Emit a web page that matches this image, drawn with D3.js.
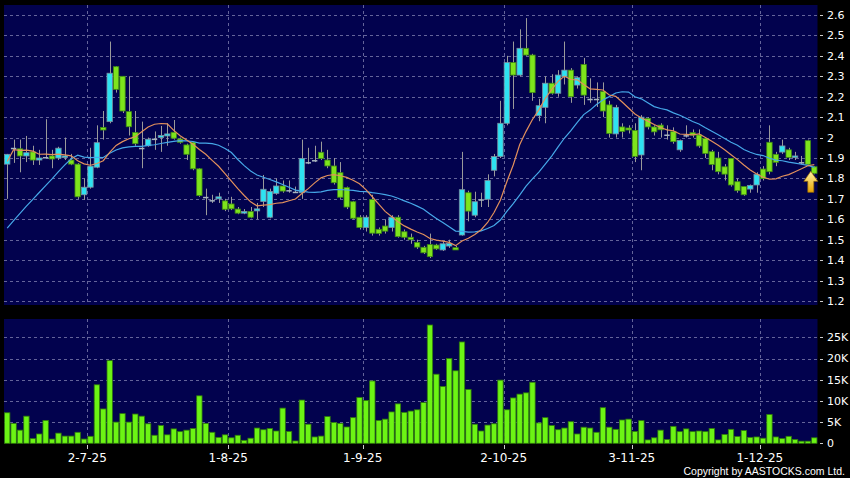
<!DOCTYPE html>
<html>
<head>
<meta charset="utf-8">
<script src="https://cdn.jsdelivr.net/npm/d3@7"></script>
<style>
  body { margin: 0; background: #000; }
  svg { display: block; font-family: "DejaVu Sans", sans-serif; }
</style>
</head>
<body>
<div id="chart"></div>
<script>
////////////////////////////////////////////////////////////////////
////////////////////////////  Data  ////////////////////////////////
// daily candles, 12-6-25 .. 11-12-25 (127 trading days)
const opens = [1.87,1.95,1.945,1.91,1.93,1.89,1.905,1.91,1.90,1.905,
  1.89,1.87,1.72,1.757,1.855,2.05,2.078,2.347,2.30,2.127,
  2.025,1.95,1.96,1.995,2.0,2.008,2.026,1.993,1.964,1.977,
  1.847,1.71,1.694,1.70,1.69,1.675,1.65,1.63,1.638,1.641,
  1.687,1.61,1.727,1.763,1.743,1.735,1.73,1.88,1.89,1.928,
  1.89,1.861,1.828,1.755,1.686,1.61,1.56,1.697,1.551,1.567,
  1.56,1.61,1.539,1.512,1.487,1.463,1.476,1.474,1.45,1.469,
  1.461,1.523,1.73,1.62,1.698,1.698,1.84,1.907,2.07,2.367,
  2.306,2.437,2.404,2.107,2.148,2.266,2.217,2.298,2.33,2.257,
  2.358,2.19,2.19,2.225,2.16,2.018,2.052,2.047,2.035,1.915,
  2.094,2.052,2.061,2.015,2.029,1.94,2.012,2.024,2.013,1.996,
  1.931,1.90,1.857,1.898,1.784,1.76,1.748,1.768,1.846,1.977,
  1.918,1.929,1.94,1.903,1.88,1.985,1.857];

const highs = [1.92,1.99,1.99,2.008,1.96,1.94,2.09,1.94,1.955,2.00,
  1.92,1.875,1.80,1.95,2.06,2.13,2.47,2.35,2.30,2.30,
  2.13,2.078,2.00,2.03,2.057,2.07,2.086,2.00,1.97,1.98,
  1.85,1.75,1.72,1.73,1.70,1.71,1.66,1.65,1.66,1.68,
  1.817,1.75,1.80,1.79,1.79,1.76,1.99,1.95,1.96,1.98,
  1.94,1.90,1.88,1.76,1.69,1.62,1.62,1.72,1.56,1.60,
  1.62,1.62,1.55,1.53,1.50,1.47,1.53,1.48,1.49,1.50,
  1.47,1.93,1.74,1.735,1.73,1.82,1.92,2.18,2.40,2.47,
  2.53,2.585,2.41,2.19,2.30,2.31,2.33,2.47,2.34,2.30,
  2.39,2.29,2.27,2.27,2.18,2.16,2.07,2.06,2.07,2.11,
  2.10,2.06,2.07,2.06,2.05,1.99,2.06,2.04,2.04,2.00,
  1.94,1.93,1.87,1.90,1.80,1.76,1.77,1.83,1.86,2.06,
  1.93,1.99,1.95,1.93,1.91,1.99,1.86];

const lows = [1.70,1.876,1.83,1.88,1.866,1.866,1.90,1.85,1.89,1.89,
  1.865,1.70,1.695,1.75,1.85,1.99,2.07,2.22,2.12,2.01,
  1.96,1.85,1.955,1.94,1.93,1.96,1.99,1.97,1.89,1.84,
  1.71,1.62,1.68,1.68,1.64,1.645,1.625,1.625,1.605,1.60,
  1.66,1.605,1.72,1.73,1.73,1.73,1.70,1.87,1.88,1.89,
  1.85,1.77,1.70,1.65,1.60,1.55,1.54,1.52,1.52,1.53,
  1.54,1.51,1.50,1.48,1.455,1.43,1.41,1.45,1.445,1.46,
  1.45,1.52,1.59,1.61,1.66,1.66,1.81,1.90,2.06,2.14,
  2.30,2.40,2.18,2.08,2.07,2.21,2.20,2.26,2.17,2.24,
  2.16,2.17,2.15,2.10,2.00,2.00,2.00,2.02,1.88,1.84,
  2.04,2.01,2.00,1.99,1.97,1.93,2.00,2.00,1.95,1.90,
  1.84,1.82,1.79,1.76,1.73,1.715,1.73,1.73,1.79,1.82,
  1.86,1.92,1.89,1.89,1.87,1.86,1.82];

const closes = [1.918,1.95,1.91,1.926,1.89,1.90,1.905,1.895,1.948,1.91,
  1.87,1.71,1.757,1.86,1.975,2.037,2.315,2.236,2.13,2.053,
  1.97,1.95,1.992,1.995,2.01,2.018,1.997,1.977,1.918,1.847,
  1.716,1.71,1.694,1.71,1.649,1.651,1.63,1.638,1.61,1.651,
  1.747,1.736,1.763,1.738,1.743,1.735,1.898,1.88,1.89,1.898,
  1.861,1.779,1.708,1.66,1.605,1.56,1.61,1.532,1.531,1.542,
  1.61,1.515,1.512,1.50,1.464,1.436,1.417,1.455,1.48,1.482,
  1.45,1.745,1.64,1.686,1.698,1.79,1.907,2.07,2.367,2.306,
  2.437,2.404,2.22,2.156,2.266,2.217,2.306,2.33,2.20,2.293,
  2.208,2.19,2.19,2.13,2.02,2.148,2.03,2.037,1.908,2.10,
  2.052,2.028,2.038,2.015,1.98,1.986,2.012,2.012,1.959,1.922,
  1.868,1.833,1.821,1.768,1.74,1.72,1.766,1.82,1.80,1.833,
  1.879,1.959,1.903,1.91,1.88,1.869,1.825];

// volume in shares
const volumes = [7200,4700,3100,6400,1100,2200,5400,1000,2400,1700,
  1700,2600,1000,1650,13800,8100,19500,5000,7000,5000,
  6900,6400,4600,1900,4200,2000,3400,2750,3100,3500,
  11200,4700,2600,1400,2000,1300,1900,700,1200,3600,
  3200,3500,2900,8300,2800,550,10200,4500,1500,1700,
  6300,4900,4700,3850,6050,10800,10100,14700,5400,5700,
  7400,9300,7300,7600,7900,9600,27900,16300,13400,20000,
  17100,23900,12700,4500,2900,4300,4600,14900,7900,10700,
  11600,11900,14400,4800,6050,4200,3200,3600,5100,2200,
  3800,3600,2600,8400,3800,3300,5500,5700,2800,5350,
  800,1300,3100,900,4000,2750,3400,2750,2900,2750,
  3500,800,2100,3300,1600,3000,1400,1500,1200,6800,
  1500,1100,1650,900,500,500,1300];

// closes before the window (only feed the moving averages)
const priorCloses = [1.20,1.21,1.22,1.22,1.23,1.23,1.24,1.24,1.25,1.26,
  1.37,1.94,1.92,1.94,2.05,1.90,1.92,1.92,1.95];

const tickIndex = [13, 35, 56, 78, 98, 118];
const tickLabels = ["2-7-25", "1-8-25", "1-9-25", "2-10-25", "3-11-25", "1-12-25"];
const priceTicks = [1.2,1.3,1.4,1.5,1.6,1.7,1.8,1.9,2,2.1,2.2,2.3,2.4,2.5,2.6];
const volumeTicks = [0, 5000, 10000, 15000, 20000, 25000];

////////////////////////////////////////////////////////////////////
////////////////////////////  Init  ////////////////////////////////
const width = 850, height = 478;
const panelLeft = 4, panelRight = 817.5;
const price = { top: 5, bottom: 305 };
const vol = { top: 319, bottom: 443 };
const pad = 0.16;

const svg = d3.select("#chart").append("svg")
  .attr("width", width).attr("height", height);

svg.append("rect").attr("width", width).attr("height", height).attr("fill", "#000");

// scales
const idx = d3.range(closes.length);
const xScale = d3.scaleBand().domain(idx).range([panelLeft, panelRight])
  .paddingInner(pad).paddingOuter(pad / 2);
const cx = (i) => xScale(i) + xScale.bandwidth() / 2;
const edge = (i) => xScale(i) - (xScale.step() - xScale.bandwidth()) / 2;

const yScale = d3.scaleLinear().domain([1.2, 2.6]).range([301, 15]);
const vScale = d3.scaleLinear().domain([0, 25000]).range([443.3, 337.3]);

const gridColor = "#64649a";
const panelFill = "#02024e";

// panels
[price, vol].forEach((p) => {
  svg.append("rect")
    .attr("x", panelLeft).attr("y", p.top)
    .attr("width", panelRight - panelLeft).attr("height", p.bottom - p.top)
    .attr("fill", panelFill);
});

svg.append("clipPath").attr("id", "clip-price")
  .append("rect").attr("x", panelLeft).attr("y", price.top)
  .attr("width", panelRight - panelLeft).attr("height", price.bottom - price.top);

// horizontal grid
svg.append("g").selectAll("line").data(priceTicks).enter().append("line")
  .attr("x1", panelLeft).attr("x2", panelRight)
  .attr("y1", (d) => Math.round(yScale(d)) + 0.5).attr("y2", (d) => Math.round(yScale(d)) + 0.5)
  .attr("stroke", gridColor).attr("stroke-dasharray", "3,3");

svg.append("g").selectAll("line").data(volumeTicks.filter((d) => d > 0)).enter().append("line")
  .attr("x1", panelLeft).attr("x2", panelRight)
  .attr("y1", (d) => Math.round(vScale(d)) + 0.5).attr("y2", (d) => Math.round(vScale(d)) + 0.5)
  .attr("stroke", gridColor).attr("stroke-dasharray", "3,3");

// vertical grid
[price, vol].forEach((p) => {
  svg.append("g").selectAll("line").data(tickIndex).enter().append("line")
    .attr("x1", (d) => Math.round(edge(d)) + 0.5).attr("x2", (d) => Math.round(edge(d)) + 0.5)
    .attr("y1", p.top).attr("y2", p.bottom)
    .attr("stroke", gridColor).attr("stroke-dasharray", "3,3");
});

////////////////////////////////////////////////////////////////////
////////////////////////////  Candles  /////////////////////////////
const candles = svg.append("g");

candles.selectAll("line.wick").data(idx).enter().append("line")
  .attr("class", "wick")
  .attr("x1", (i) => Math.round(cx(i)) + 0.5).attr("x2", (i) => Math.round(cx(i)) + 0.5)
  .attr("y1", (i) => yScale(highs[i])).attr("y2", (i) => yScale(lows[i]))
  .attr("stroke", "#9a9a9a").attr("stroke-width", 1);

candles.selectAll("rect.body").data(idx).enter().append("rect")
  .attr("class", "body")
  .attr("x", (i) => xScale(i))
  .attr("y", (i) => yScale(Math.max(opens[i], closes[i])))
  .attr("width", xScale.bandwidth())
  .attr("height", (i) => Math.max(1.5, Math.abs(yScale(opens[i]) - yScale(closes[i]))))
  .attr("fill", (i) => closes[i] > opens[i] ? "#2ee2f2" : closes[i] < opens[i] ? "#7ee41c" : "#a8b4c0")
  .attr("stroke", (i) => closes[i] > opens[i] ? "#7c8fa0" : closes[i] < opens[i] ? "#3d8a14" : "none")
  .attr("stroke-width", 0.8);

////////////////////////////////////////////////////////////////////
////////////////////////////  Moving averages  /////////////////////
const allCloses = priorCloses.concat(closes);
const off = priorCloses.length;
const ma = (n) => idx.map((i) => d3.mean(allCloses.slice(off + i - n + 1, off + i + 1)));
const ma10 = ma(10);
const ma20 = ma(20);

const line = (arr) => d3.line().x((d, i) => cx(i)).y((d) => yScale(d))(arr);

svg.append("path").attr("d", line(ma20))
  .attr("clip-path", "url(#clip-price)")
  .attr("fill", "none").attr("stroke", "#46a8e8").attr("stroke-width", 1.2);
svg.append("path").attr("d", line(ma10))
  .attr("clip-path", "url(#clip-price)")
  .attr("fill", "none").attr("stroke", "#e2905c").attr("stroke-width", 1.2);

// last-day arrow
const last = closes.length - 1;
const defs = svg.append("defs");
const grad = defs.append("linearGradient").attr("id", "arrow-grad")
  .attr("x1", 0).attr("y1", 0).attr("x2", 0).attr("y2", 1);
grad.append("stop").attr("offset", "0%").attr("stop-color", "#fff4a8");
grad.append("stop").attr("offset", "100%").attr("stop-color", "#e8a400");

const ax = cx(last) - 3.5;
const ay = yScale(lows[last]) - 3;
svg.append("path")
  .attr("d", `M${ax},${ay} L${ax + 7},${ay + 10} L${ax + 3},${ay + 10} L${ax + 3},${ay + 21}
    L${ax - 3},${ay + 21} L${ax - 3},${ay + 10} L${ax - 7},${ay + 10} Z`)
  .attr("fill", "url(#arrow-grad)").attr("stroke", "#9a6a00").attr("stroke-width", 0.7);

////////////////////////////////////////////////////////////////////
////////////////////////////  Volume  //////////////////////////////
svg.append("g").selectAll("rect").data(idx).enter().append("rect")
  .attr("x", (i) => xScale(i))
  .attr("y", (i) => vScale(volumes[i]))
  .attr("width", xScale.bandwidth())
  .attr("height", (i) => vScale(0) - vScale(volumes[i]))
  .attr("fill", "#6cf414").attr("stroke", "#2f7a0c").attr("stroke-width", 0.8);

////////////////////////////////////////////////////////////////////
////////////////////////////  Axes  ////////////////////////////////
const axisG = svg.append("g").attr("fill", "#fff").attr("font-size", 11);

axisG.selectAll("text.p").data(priceTicks).enter().append("text")
  .attr("x", 827).attr("y", (d) => yScale(d)).attr("dy", "0.36em")
  .text((d) => d3.format("")(+d.toFixed(1)));
svg.append("g").selectAll("line").data(priceTicks).enter().append("line")
  .attr("x1", 820).attr("x2", 823)
  .attr("y1", (d) => Math.round(yScale(d)) + 0.5).attr("y2", (d) => Math.round(yScale(d)) + 0.5)
  .attr("stroke", "#ccc");

axisG.selectAll("text.v").data(volumeTicks).enter().append("text")
  .attr("x", 827).attr("y", (d) => vScale(d)).attr("dy", "0.36em")
  .text((d) => d === 0 ? "0" : d / 1000 + "K");
svg.append("g").selectAll("line").data(volumeTicks).enter().append("line")
  .attr("x1", 820).attr("x2", 823)
  .attr("y1", (d) => Math.round(vScale(d)) + 0.5).attr("y2", (d) => Math.round(vScale(d)) + 0.5)
  .attr("stroke", "#ccc");

svg.append("g").selectAll("line").data(tickIndex).enter().append("line")
  .attr("x1", (d) => Math.round(edge(d)) + 0.5).attr("x2", (d) => Math.round(edge(d)) + 0.5)
  .attr("y1", 445).attr("y2", 449).attr("stroke", "#ccc");

svg.append("g").selectAll("text").data(tickIndex).enter().append("text")
  .attr("x", (d) => edge(d)).attr("y", 462)
  .attr("text-anchor", "middle").attr("fill", "#fff").attr("font-size", 12)
  .text((d, i) => tickLabels[i]);

svg.append("text")
  .attr("x", 845).attr("y", 475).attr("text-anchor", "end")
  .attr("fill", "#fff").attr("font-size", 10.5)
  .attr("font-family", "'Liberation Sans', Arial, sans-serif")
  .text("Copyright by AASTOCKS.com Ltd.");
</script>
</body>
</html>
